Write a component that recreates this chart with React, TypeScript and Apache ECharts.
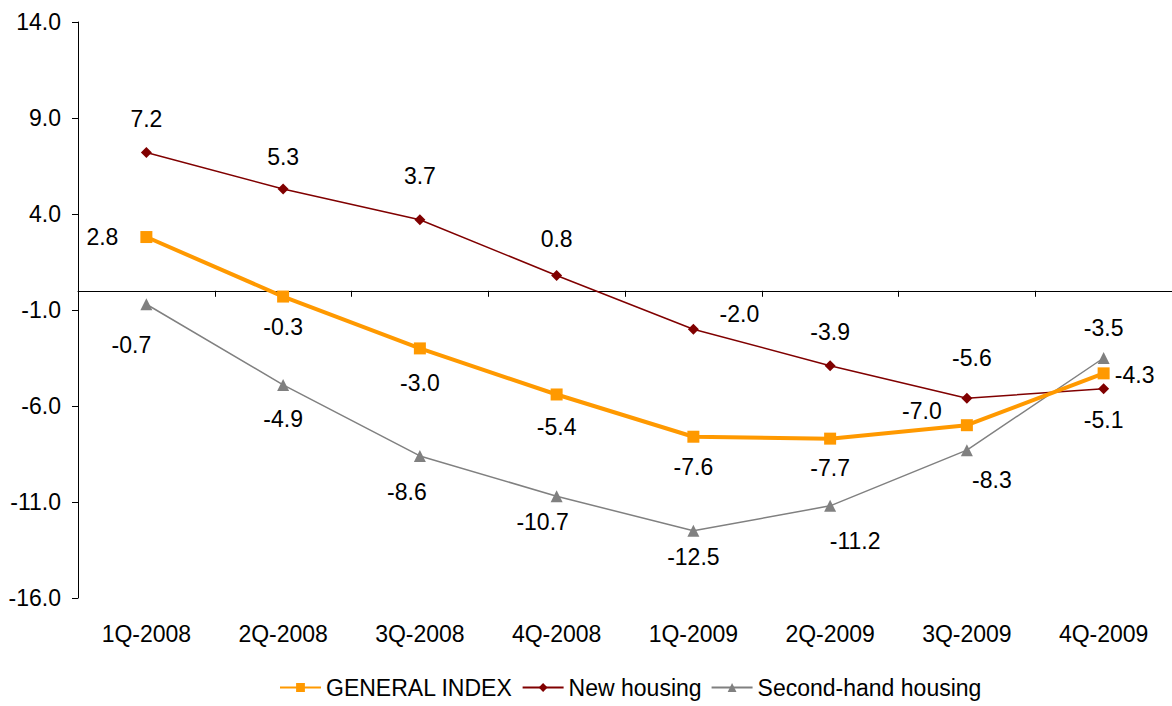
import React, { useEffect, useRef } from "react";
import * as echarts from "echarts";

const categories = ["1Q-2008", "2Q-2008", "3Q-2008", "4Q-2008", "1Q-2009", "2Q-2009", "3Q-2009", "4Q-2009"];
const generalIndex = [2.8, -0.3, -3.0, -5.4, -7.6, -7.7, -7.0, -4.3];
const newHousing = [7.2, 5.3, 3.7, 0.8, -2.0, -3.9, -5.6, -5.1];
const secondHand = [-0.7, -4.9, -8.6, -10.7, -12.5, -11.2, -8.3, -3.5];
const yTickValues = [-16, -11, -6, -1, 4, 9, 14];

// label offsets (style only)
const generalOffsets = [[-44, 0], [0, 30], [0, 35], [0, 33], [0, 30], [0, 29], [-45, -14], [31, 2]];
const newOffsets = [[0, -34], [0, -32], [0, -44], [0, -36], [46, -15], [0, -34], [5, -40], [0, 31]];
const secondOffsets = [[-15, 41], [0, 34], [-13, 36], [-14, 26], [0, 26], [25, 35], [25, 30], [0, -30]];

const FONT = "Arial, 'Liberation Sans', sans-serif";
const FS = 23;

function withLabels(values: number[], offsets: number[][]) {
  return values.map((v, i) => ({
    value: v,
    label: {
      show: true,
      position: "inside",
      offset: offsets[i],
      align: "center",
      verticalAlign: "middle",
      formatter: (p: any) => Number(p.value).toFixed(1),
      color: "#000",
      fontSize: FS,
      fontFamily: FONT,
    },
  }));
}

export default function App() {
  const ref = useRef<HTMLDivElement>(null);
  useEffect(() => {
    if (!ref.current) return;
    const chart = echarts.init(ref.current, undefined, { renderer: "svg" });
    chart.setOption({
      animation: false,
      backgroundColor: "#fff",
      textStyle: { fontFamily: FONT },
      grid: { left: 78, top: 22, width: 1103, height: 576, containLabel: false },
      legend: {
        bottom: 2,
        left: 274,
        itemWidth: 41,
        itemHeight: 11,
        itemGap: 9,
        textStyle: { fontSize: FS, color: "#000", fontFamily: FONT },
        data: ["GENERAL INDEX", "New housing", "Second-hand housing"],
      },
      xAxis: [
        {
          type: "category",
          data: categories,
          boundaryGap: true,
          axisLine: { show: true, onZero: true, lineStyle: { color: "#000", width: 1 } },
          axisTick: { show: true, inside: false, length: 6, alignWithLabel: false, lineStyle: { color: "#000" } },
          axisLabel: { show: false },
          splitLine: { show: false },
        },
        {
          type: "category",
          data: categories,
          position: "bottom",
          boundaryGap: true,
          axisLine: { show: false, onZero: false },
          axisTick: { show: false },
          axisLabel: { show: true, margin: 24, fontSize: FS, color: "#000", fontFamily: FONT },
          splitLine: { show: false },
        },
      ],
      yAxis: {
        type: "value",
        min: -16,
        max: 14,
        axisLine: { show: true, lineStyle: { color: "#000", width: 1 } },
        axisTick: { show: true, length: 6, customValues: yTickValues, lineStyle: { color: "#000" } },
        axisLabel: {
          show: true,
          margin: 17,
          fontSize: FS,
          color: "#000",
          fontFamily: FONT,
          customValues: yTickValues,
          formatter: (v: number) => v.toFixed(1),
        },
        splitLine: { show: false },
      },
      series: [
        {
          name: "GENERAL INDEX",
          type: "line",
          xAxisIndex: 0,
          data: withLabels(generalIndex, generalOffsets),
          symbol: "rect",
          symbolSize: 12,
          itemStyle: { color: "#FF9900" },
          lineStyle: { color: "#FF9900", width: 4 },
          z: 4,
        },
        {
          name: "New housing",
          type: "line",
          xAxisIndex: 0,
          data: withLabels(newHousing, newOffsets),
          symbol: "diamond",
          symbolSize: 11,
          itemStyle: { color: "#800000" },
          lineStyle: { color: "#800000", width: 1.5 },
          z: 3,
        },
        {
          name: "Second-hand housing",
          type: "line",
          xAxisIndex: 0,
          data: withLabels(secondHand, secondOffsets),
          symbol: "triangle",
          symbolSize: 12,
          itemStyle: { color: "#808080" },
          lineStyle: { color: "#808080", width: 1.5 },
          z: 3,
        },
      ],
    });
    return () => chart.dispose();
  }, []);
  return (
    <div
      ref={ref}
      style={{ position: "absolute", left: 0, top: 0, width: 1172, height: 706, overflow: "hidden" }}
    />
  );
}
